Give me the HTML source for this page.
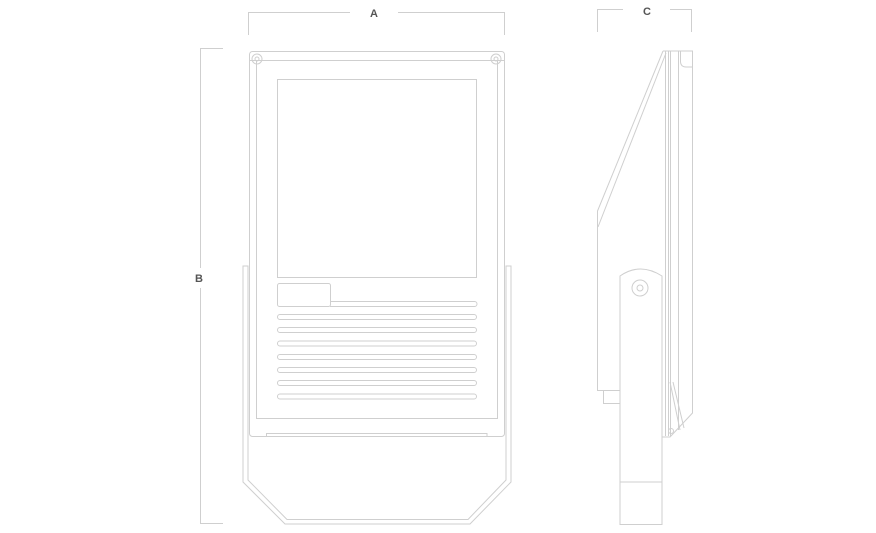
<!DOCTYPE html>
<html><head><meta charset="utf-8"><style>
html,body{margin:0;padding:0;background:#fff;}
svg{display:block;}
text{font-family:"Liberation Sans",sans-serif;font-weight:bold;font-size:11px;fill:#555;}
</style></head><body>
<svg width="876" height="533" viewBox="0 0 876 533" xmlns="http://www.w3.org/2000/svg">
<g fill="none" stroke="#cfcfcf" stroke-width="1">
<!-- dimension A -->
<polyline points="248.5,35 248.5,12.5 350,12.5"/>
<polyline points="398,12.5 504.5,12.5 504.5,35"/>
<!-- dimension B -->
<polyline points="223,48.5 200.5,48.5 200.5,268"/>
<polyline points="200.5,288 200.5,523.5 223,523.5"/>
<!-- dimension C -->
<polyline points="597.5,32 597.5,9.5 623,9.5"/>
<polyline points="670,9.5 691.5,9.5 691.5,32"/>

<!-- bracket -->
<path d="M243,266 L243,482 L285,524 L470,524 L511,482 L511,266 L506,266 L506,480 L468,519.5 L287,519.5 L248,480 L248,266 Z"/>
<!-- outer frame -->
<rect x="249.5" y="51.5" width="255" height="385" rx="3"/>
<rect x="256.5" y="60.5" width="241" height="358"/>
<line x1="249.5" y1="60.5" x2="504.5" y2="60.5"/>
<!-- screws -->
<circle cx="257" cy="59" r="5"/><circle cx="257" cy="59" r="2"/>
<circle cx="496" cy="59" r="5"/><circle cx="496" cy="59" r="2"/>
<!-- bottom strip -->
<polyline points="266.5,436 266.5,433.5 487,433.5 487,436"/>
<!-- window -->
<rect x="277.5" y="79.5" width="199" height="198"/>
<rect x="277.5" y="283.5" width="53" height="23" rx="2"/>
<!-- slots -->
<path d="M330,301.5 L474.5,301.5 A2.5,2.5 0 0 1 474.5,306.5 L330,306.5"/>
<rect x="277.5" y="314.5" width="199" height="5" rx="2.5"/>
<rect x="277.5" y="327.5" width="199" height="5" rx="2.5"/>
<rect x="277.5" y="341" width="199" height="5" rx="2.5"/>
<rect x="277.5" y="354.5" width="199" height="5" rx="2.5"/>
<rect x="277.5" y="367.5" width="199" height="5" rx="2.5"/>
<rect x="277.5" y="380.5" width="199" height="5" rx="2.5"/>
<rect x="277.5" y="394" width="199" height="5" rx="2.5"/>

<!-- side view -->
<polyline points="663,51 597.5,211 597.5,390.5 620,390.5"/>
<line x1="666" y1="53" x2="598" y2="227"/>
<polyline points="620,390.5 603.5,390.5 603.5,403.5 620,403.5"/>
<line x1="665.5" y1="51" x2="665.5" y2="436"/>
<line x1="668.5" y1="51" x2="668.5" y2="436"/>
<line x1="670.5" y1="51" x2="670.5" y2="436"/>
<line x1="678.5" y1="51" x2="678.5" y2="430"/>
<line x1="663" y1="51" x2="680" y2="51"/>
<path d="M680.5,51 L680.5,62 Q681,67 686,67 L692.5,67 L692.5,51 Z"/>
<polyline points="692.5,67 692.5,413 670,437 662,437"/>
<line x1="670" y1="382" x2="680" y2="430"/>
<line x1="673" y1="382" x2="684" y2="428"/>
<circle cx="671" cy="431" r="2.5"/>
<!-- arm -->
<path d="M620,524.5 L620,276 Q640,262 662,276 L662,524.5 Z" fill="#fff"/>
<line x1="620" y1="482" x2="662" y2="482"/>
<circle cx="640" cy="288" r="8"/><circle cx="640" cy="288" r="3"/>
</g>
<text x="374" y="17" text-anchor="middle">A</text>
<text x="199" y="282" text-anchor="middle">B</text>
<text x="647" y="15" text-anchor="middle">C</text>
</svg>
</body></html>
